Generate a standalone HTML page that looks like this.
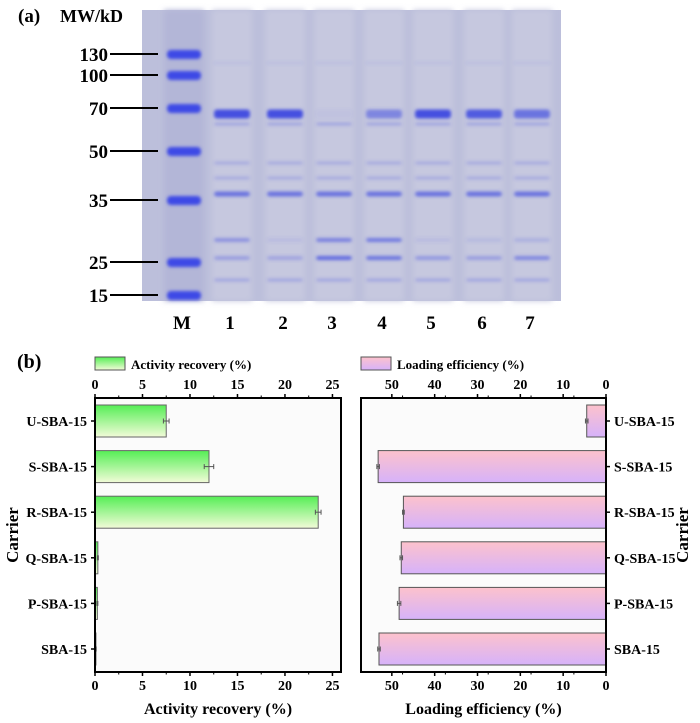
<!DOCTYPE html>
<html><head><meta charset="utf-8"><style>
body{margin:0;background:#fff}
svg{display:block;font-family:"Liberation Serif",serif;font-weight:bold}
</style></head><body>
<svg id="fig" width="700" height="723" viewBox="0 0 700 723">
<defs>
<filter id="blur" x="-20%" y="-100%" width="140%" height="300%"><feGaussianBlur stdDeviation="1.6"/></filter>
<filter id="blur2" x="-20%" y="-5%" width="140%" height="110%"><feGaussianBlur stdDeviation="3"/></filter>
<linearGradient id="gGreen" x1="0" y1="0" x2="0" y2="1"><stop offset="0" stop-color="#55ee55"/><stop offset="1" stop-color="#f2fbd8"/></linearGradient>
<linearGradient id="gPink" x1="0" y1="0" x2="0" y2="1"><stop offset="0" stop-color="#fdc2cc"/><stop offset="1" stop-color="#d6b2fa"/></linearGradient>
</defs>
<g id="gel"></g>
<g id="chartL"></g>
<g id="chartR"></g>
</svg>
<script>
const NS="http://www.w3.org/2000/svg";
function mk(p,t,a,txt){const e=document.createElementNS(NS,t);for(const k in a)e.setAttribute(k,a[k]);if(txt!==undefined)e.textContent=String(txt);p.appendChild(e);return e;}

// ---------- Gel (a) ----------
const mwLabels=["130","100","70","50","35","25","15"];
const mwY=[54,75,108,151,200,262,295];
const laneNames=["M","1","2","3","4","5","6","7"];
const laneX=[184,232,285,334,384,433,484,532];
const mainBand=[0,1,1,0.05,0.55,1,0.9,0.7];
const band28=[0,0.45,0.1,0.6,0.65,0.1,0.12,0.2];
const band25=[0,0.35,0.3,0.8,0.7,0.4,0.35,0.55];

const gel=document.getElementById('gel');
let r=mk(gel,'rect',{x:142,y:10,width:419,height:291,fill:'#bcbfdb'});


const lanesBg=mk(gel,'g',{filter:'url(#blur2)'});
laneX.forEach((x,i)=>{mk(lanesBg,'rect',{x:x-20,y:10,width:40,height:291,fill:i==0?'#b3b6d7':'#c6c8df'});});
const bands=mk(gel,'g',{filter:'url(#blur)'});
mwY.forEach(y=>{const b=mk(bands,'rect',{x:laneX[0]-17,y:y-4,width:34,height:9,rx:4,fill:'#3d48e6'});

});
for(let i=1;i<8;i++){const x=laneX[i];
 const add=(y,h,op,c)=>mk(bands,'rect',{x:x-18,y:y-h/2,width:36,height:h,rx:3,fill:c||'#4450e0','fill-opacity':op});
 add(63,2,0.12);add(114,9,mainBand[i]);add(124,3,0.3);add(163,3,0.25);add(178,3,0.25);
 add(194,5,0.7);add(240,4,band28[i]);add(258,4,band25[i]);add(280,3,0.3);
}
mk(gel,'text',{x:18,y:22,'font-size':19},'(a)');
mk(gel,'text',{x:60,y:22,'font-size':18},'MW/kD');
mwLabels.forEach((l,i)=>{const t=mk(gel,'text',{x:108,y:mwY[i]+7,'font-size':19,'text-anchor':'end'},l);


mk(gel,'line',{x1:110,x2:158,y1:mwY[i],y2:mwY[i],stroke:'#000','stroke-width':2});});
laneNames.forEach((l,i)=>{const t=mk(gel,'text',{x:laneX[i]-2,y:329,'font-size':19,'text-anchor':'middle'},l);

});

// ---------- Charts (b) ----------
const carriers=["U-SBA-15","S-SBA-15","R-SBA-15","Q-SBA-15","P-SBA-15","SBA-15"];
const activity=[7.5,12,23.5,0.3,0.25,0.1];
const activityErr=[0.3,0.5,0.3,0.05,0.05,0.03];
const loading=[4.5,53.2,47.3,47.8,48.3,53];
const loadingErr=[0.3,0.3,0.2,0.3,0.4,0.3];
const ticksL=[0,5,10,15,20,25];
const ticksR=[50,40,30,20,10,0];

const yTop=398,yBot=672;
const yC=i=>yTop+23+i*45.6;
function chart(g,left,right,dmax,reversed,vals,errs,ticks,fill,stroke,legendText,xTitle,labelRight){
 const xs=v=>reversed?right-v/dmax*(right-left):left+v/dmax*(right-left);
 mk(g,'rect',{x:left,y:yTop,width:right-left,height:yBot-yTop,fill:'#fbfbfb'});
 vals.forEach((v,i)=>{const x0=xs(0),x1=xs(v);
  const b=mk(g,'rect',{x:Math.min(x0,x1),y:yC(i)-16,width:Math.abs(x1-x0),height:32,fill:fill,stroke:stroke,'stroke-width':1});
  
  
  const e1=xs(v-errs[i]),e2=xs(v+errs[i]);
  mk(g,'line',{x1:e1,x2:e2,y1:yC(i),y2:yC(i),stroke:'#555','stroke-width':1});
  mk(g,'line',{x1:e1,x2:e1,y1:yC(i)-2.5,y2:yC(i)+2.5,stroke:'#555'});
  mk(g,'line',{x1:e2,x2:e2,y1:yC(i)-2.5,y2:yC(i)+2.5,stroke:'#555'});
  const lx=labelRight?right+8:left-8;
  const t=mk(g,'text',{x:lx,y:yC(i)+5,'font-size':14,'text-anchor':labelRight?'start':'end'},carriers[i]);
  
  
  const tx=labelRight?right:left;
  mk(g,'line',{x1:tx,x2:labelRight?tx+4:tx-4,y1:yC(i),y2:yC(i),stroke:'#000','stroke-width':1.5});
 });
 mk(g,'rect',{x:left,y:yTop,width:right-left,height:yBot-yTop,fill:'none',stroke:'#000','stroke-width':2});
 ticks.forEach(v=>{const x=xs(v);
  mk(g,'line',{x1:x,x2:x,y1:yBot,y2:yBot+4,stroke:'#000','stroke-width':1.5});
  mk(g,'line',{x1:x,x2:x,y1:yTop,y2:yTop-4,stroke:'#000','stroke-width':1.5});
  const t1=mk(g,'text',{x:x,y:690,'font-size':14,'text-anchor':'middle'},v);
  
  
  const t2=mk(g,'text',{x:x,y:389,'font-size':14,'text-anchor':'middle'},v);
  
  
  const xm=xs(v+(reversed?-5:5)/2);
  if(xm>left+1&&xm<right-1){mk(g,'line',{x1:xm,x2:xm,y1:yBot,y2:yBot+2.5,stroke:'#000'});mk(g,'line',{x1:xm,x2:xm,y1:yTop,y2:yTop-2.5,stroke:'#000'});}
 });
 const lg=mk(g,'g',{});
 
 
 mk(lg,'rect',{x:left,y:357,width:30,height:13,fill:fill,stroke:'#555'});
 mk(lg,'text',{x:left+36,y:369,'font-size':13},legendText);
 const xt=mk(g,'text',{x:(left+right)/2,y:714,'font-size':16,'text-anchor':'middle'},xTitle);
 
 
}
const gL=document.getElementById('chartL'),gR=document.getElementById('chartR');
chart(gL,95,341,25.9,false,activity,activityErr,ticksL,'url(#gGreen)','#666','Activity recovery (%)','Activity recovery (%)',false);
chart(gR,361,606,57.2,true,loading,loadingErr,ticksR,'url(#gPink)','#555','Loading efficiency  (%)','Loading efficiency  (%)',true);
mk(gL,'text',{x:17,y:368,'font-size':20},'(b)');
let c1=mk(gL,'text',{x:0,y:0,'font-size':17,'text-anchor':'middle',transform:'translate(18,535) rotate(-90)'},'Carrier');


let c2=mk(gR,'text',{x:0,y:0,'font-size':17,'text-anchor':'middle',transform:'translate(688,535) rotate(-90)'},'Carrier');


</script>
</body></html>
